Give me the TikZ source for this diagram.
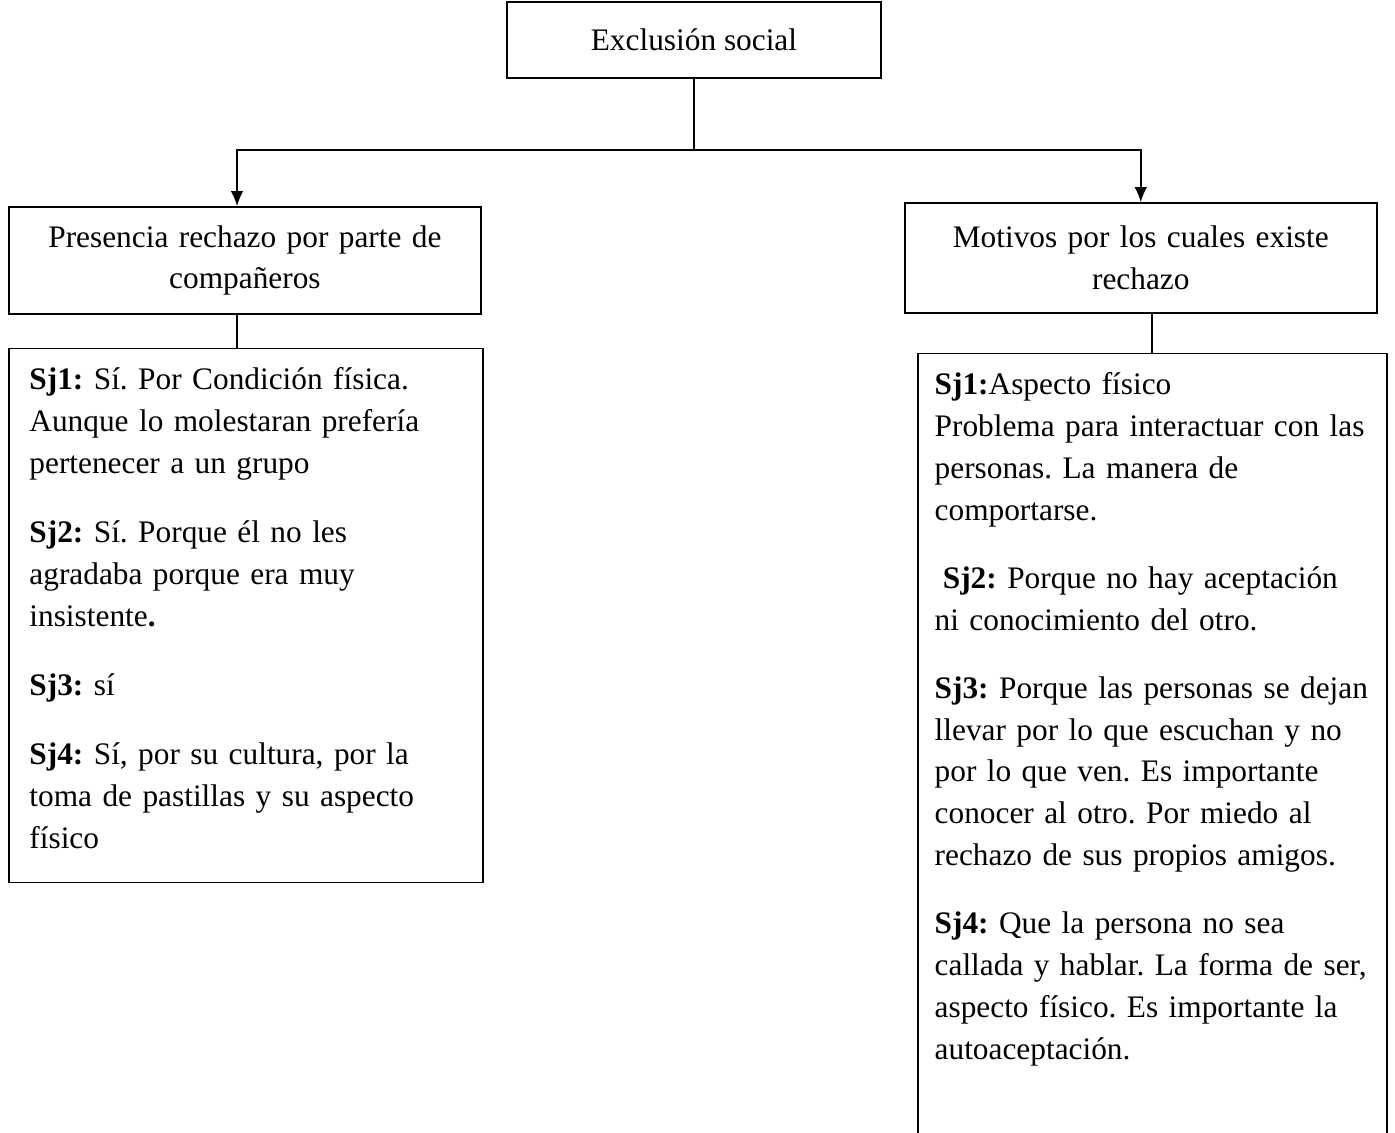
\documentclass[tikz,border=0pt]{standalone}
\usepackage{fontspec}
\setmainfont{Liberation Serif}
\usetikzlibrary{shapes, arrows, arrows.meta, positioning}
\tikzstyle{title}   = [rectangle, draw, text centered, minimum width=137.3pt, minimum height=27.9pt]
\tikzstyle{heading} = [rectangle, draw, align=center, text width=165pt, minimum width=173.2pt, minimum height=39.3pt]
\tikzstyle{answers} = [rectangle, draw, align=left, inner xsep=7.5pt, inner ysep=4pt, text height=11pt]
\tikzstyle{single}  = [draw, -{Latex[length=5.5pt, width=4.6pt]}]
\tikzstyle{link}    = [draw]

\begin{document}
\begin{tikzpicture}[x=1pt, y=-1pt, line width=0.6pt, font=\fontsize{11.5}{15.4}\selectfont\frenchspacing]
    \useasboundingbox (0,0) rectangle (512,415.8);
    \clip (0,0) rectangle (512,415.8);
    \node[title](top) at (254.7,14.7){Exclusión social};
    \node[heading](lefthead) at (89.9,95.6){Presencia rechazo por parte de\\compañeros};
    \node[heading, minimum height=40.4pt](righthead) at (418.7,94.7){Motivos por los cuales existe\\rechazo};
    \node[answers, text width=159pt, text depth=177pt, below=12.1pt of lefthead, xshift=0.4pt](leftbody){%
        \textbf{Sj1:} Sí. Por Condición física.\\
        Aunque lo molestaran prefería\\
        pertenecer a un grupo\\[10pt]
        \textbf{Sj2:} Sí. Porque él no les\\
        agradaba porque era muy\\
        insistente\textbf{.}\\[10pt]
        \textbf{Sj3:} sí\\[10pt]
        \textbf{Sj4:} Sí, por su cultura, por la\\
        toma de pastillas y su aspecto\\
        físico};
    \node[answers, text width=159.7pt, inner xsep=6.2pt, text depth=270pt, below=14.3pt of righthead, xshift=4.2pt](rightbody){%
        \textbf{Sj1:}Aspecto físico\\
        \mbox{Problema para interactuar con las}\\
        personas. La manera de\\
        comportarse.\\[9.5pt]
        \hspace{3pt}\textbf{Sj2:} Porque no hay aceptación\\
        ni conocimiento del otro.\\[9.5pt]
        \mbox{\textbf{Sj3:} Porque las personas se dejan}\\
        llevar por lo que escuchan y no\\
        por lo que ven. Es importante\\
        conocer al otro. Por miedo al\\
        rechazo de sus propios amigos.\\[9.5pt]
        \textbf{Sj4:} Que la persona no sea\\
        \mbox{callada y hablar. La forma de ser,}\\
        aspecto físico. Es importante la\\
        autoaceptación.};
    \coordinate (fork) at (254.7,55);
    \path[link](top) -- (fork);
    \path[single](fork) -| ([xshift=-2.9pt]lefthead.north);
    \path[single](fork) -| (righthead);
    \path[link]([xshift=-2.9pt]lefthead.south) -- ([xshift=-3.3pt]leftbody.north);
    \path[link](rightbody.north |- righthead.south) -- (rightbody);
\end{tikzpicture}
\end{document}
